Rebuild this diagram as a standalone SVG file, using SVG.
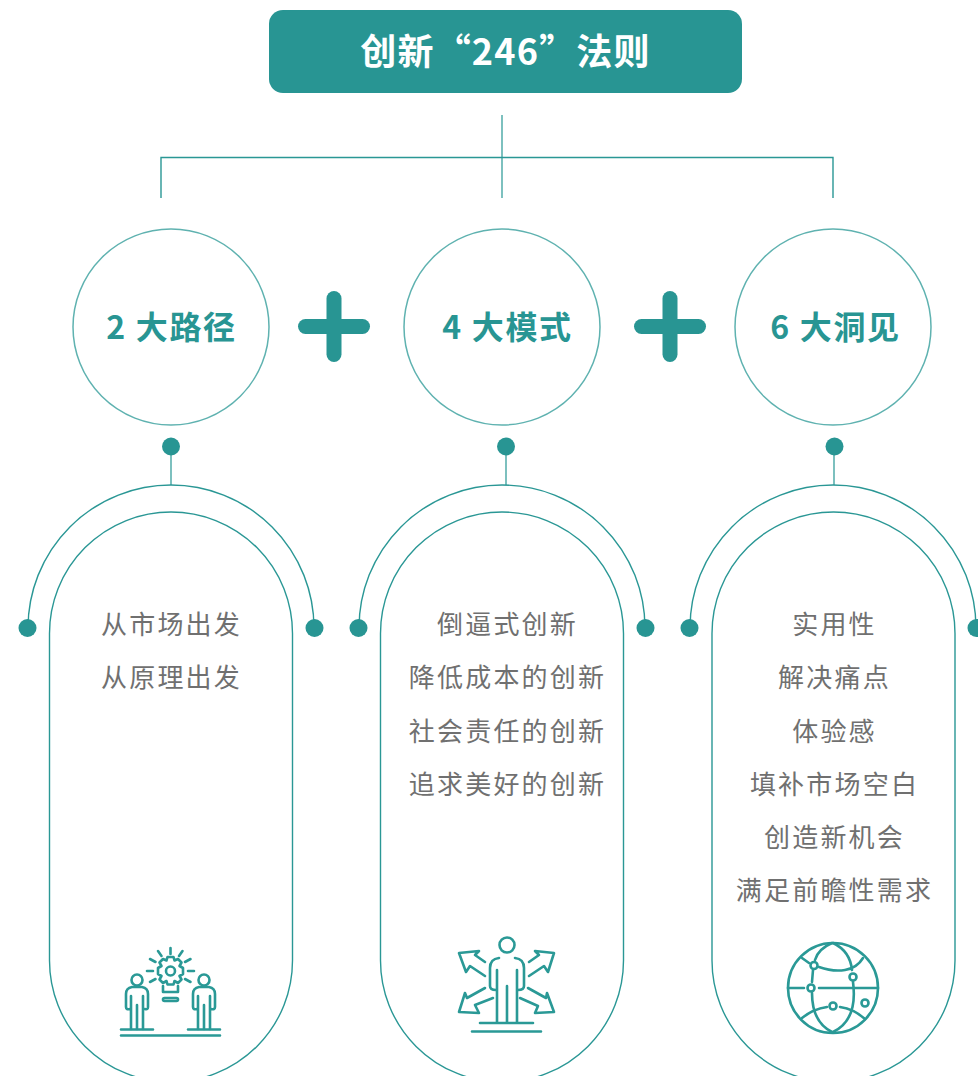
<svg xmlns="http://www.w3.org/2000/svg" width="978" height="1076" viewBox="0 0 978 1076">
<style>
text{font-family:"Noto Sans CJK SC","Noto Sans",sans-serif;text-anchor:middle}
.line{fill:none;stroke:#2a9795;stroke-width:1.4}
.soft{fill:none;stroke:#5fb2b0;stroke-width:1.5}
.stem{fill:none;stroke:#6fbab8;stroke-width:1.8}
.dot,.fill{fill:#289593}
.head{font-size:32px;font-weight:700;fill:#289593;letter-spacing:1.7px}
.item{font-size:26px;fill:#707070;letter-spacing:2.200px}
.icon{fill:none;stroke:#2a9996;stroke-width:2.600;stroke-linecap:round;stroke-linejoin:round}
</style>
<rect width="978" height="1076" fill="#fff"/>
<g id="connectors">
<path class="stem" d="M502 115V198"/>
<path class="line" d="M161 198V157.500H833V198"/>
<path class="stem" d="M171 455V485M506 455V485M834 455V485"/>
</g>
<g id="root"><rect x="269" y="10" width="473" height="83" rx="14" fill="#289593"/>
<text x="505.500" y="65" font-size="36" font-weight="700" fill="#fff" letter-spacing="1.200">创新“246”法则</text></g>
<g id="plus1" class="fill"><rect x="298" y="319" width="72" height="15" rx="7.500"/><rect x="326.500" y="291" width="15" height="71" rx="7.500"/></g>
<g id="plus2" class="fill"><rect x="634" y="319" width="72" height="15" rx="7.500"/><rect x="662.500" y="291" width="15" height="71" rx="7.500"/></g>
<g id="node-2"><circle class="soft" cx="171" cy="327" r="98"/><text class="head" x="171.500" y="338.500">2 大路径</text></g>
<g id="node-4"><circle class="soft" cx="502" cy="327" r="98"/><text class="head" x="507.500" y="338.500">4 大模式</text></g>
<g id="node-6"><circle class="soft" cx="833" cy="327" r="98"/><text class="head" x="835.500" y="338.500">6 大洞见</text></g>
<g id="col-2">
<circle class="dot" cx="171" cy="446.500" r="9"/>
<path class="line" d="M28 628A143 143 0 0 1 314 628"/>
<circle class="dot" cx="27.500" cy="628" r="9"/><circle class="dot" cx="314.500" cy="628" r="9"/>
<rect class="line" x="49.500" y="512" width="243" height="570" rx="121.500"/>
<text class="item" x="171.500" y="633.500">从市场出发</text>
<text class="item" x="171.500" y="686.500">从原理出发</text>
<g class="icon">
<path d="M170.500 948V954M158 951L161.500 956M182.500 951L179 956M150 959L155.500 962M190.500 959L185 962M147 971H153M188 971H194M150 982L155.500 979M190.500 982L185 979"/>
<path d="M167.500 957H173.500L174.500 960.500L178 959L181.500 962.500L179.500 966L183 968V974L179.500 976L181.500 979.500L178 983L174.500 981L173.500 984.500H167.500L166.500 981L163 983L159.500 979.500L161.500 976L158 974V968L161.500 966L159.500 962.500L163 959L166.500 960.500Z"/>
<circle cx="170.500" cy="971" r="4.500"/>
<path d="M163 986V992H178V986"/><rect x="163" y="998" width="15" height="3" rx="1.500"/>
<circle cx="137" cy="980" r="5.500"/><circle cx="204" cy="980" r="5.500"/>
<path d="M132 987H142Q148 988 148 994V1007Q148 1010 145 1009M132 987Q126 988 126 994V1007Q126 1010 130 1009M131 996V1029M143 996V1029M137 1005V1029"/>
<path d="M199 987H209Q215 988 215 994V1007Q215 1010 211 1009M199 987Q193 988 193 994V1007Q193 1010 197 1009M198 996V1029M210 996V1029M204 1005V1029"/>
<path d="M121 1029.500H153M188 1029.500H220M121 1035.500H220"/>
</g>
</g>
<g id="col-4">
<circle class="dot" cx="506" cy="446.500" r="9"/>
<path class="line" d="M359 628A143 143 0 0 1 645 628"/>
<circle class="dot" cx="358.500" cy="628" r="9"/><circle class="dot" cx="645.500" cy="628" r="9"/>
<rect class="line" x="380.500" y="512" width="243" height="570" rx="121.500"/>
<text class="item" x="507.500" y="633.500">倒逼式创新</text>
<text class="item" x="507.500" y="686.500">降低成本的创新</text>
<text class="item" x="507.500" y="740.500">社会责任的创新</text>
<text class="item" x="507.500" y="793.500">追求美好的创新</text>
<g class="icon">
<circle cx="507" cy="945" r="7.500"/>
<path d="M499 958Q490 959 490 968V986Q490 990 496 990M515 958Q524 959 524 968V986Q524 990 518 990M497 970V1022M517 970V1022M507 986V1022M480 1023H533M472 1031.500H541"/>
<path d="M485 962L475 955L479 951L459 953L466 972L470 966L485 976"/>
<path d="M529 962L539 955L535 951L554 953L548 972L544 966L529 976"/>
<path d="M485 988L467 998L465 993L459 1012L479 1013L475 1005L493 998"/>
<path d="M528 988L546 998L547 993L554 1012L535 1013L538 1006L520 998"/>
</g>
</g>
<g id="col-6">
<circle class="dot" cx="834.500" cy="446.500" r="9"/>
<path class="line" d="M690 628A143 143 0 0 1 976 628"/>
<circle class="dot" cx="689.500" cy="628" r="9"/><circle class="dot" cx="976.500" cy="628" r="9"/>
<rect class="line" x="712" y="512" width="243" height="570" rx="121.500"/>
<text class="item" x="834.500" y="633.500">实用性</text>
<text class="item" x="834.500" y="686.500">解决痛点</text>
<text class="item" x="834.500" y="740.500">体验感</text>
<text class="item" x="834.500" y="793.500">填补市场空白</text>
<text class="item" x="834.500" y="846.500">创造新机会</text>
<text class="item" x="834.500" y="899.500">满足前瞻性需求</text>
<g class="icon">
<circle cx="833" cy="988" r="45"/>
<path d="M802 958L809 963M819 967Q833 972 845 970Q857 968 863 958"/>
<path d="M788 988H804M819 988H878"/>
<path d="M802 1018Q813 1009 827 1007M840 1007Q854 1009 865 1019"/>
<path d="M832 943Q818 949 815 960M813 970L812 982M812 993Q812 1022 832 1032M833 943Q850 951 852 970M853 982Q858 1020 833 1032"/>
<circle cx="814" cy="965.500" r="3.500"/><circle cx="853" cy="977" r="3.500"/><circle cx="811" cy="988" r="3.500"/><circle cx="833" cy="1006" r="3.500"/><circle cx="865" cy="1003" r="3.500"/>
</g>
</g>
</svg>
